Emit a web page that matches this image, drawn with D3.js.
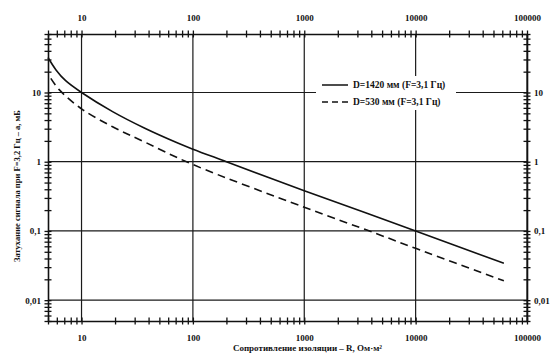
<!DOCTYPE html>
<html>
<head>
<meta charset="utf-8">
<script src="https://cdn.jsdelivr.net/npm/d3@7"></script>
<style>
  body { margin: 0; background: #fff; }
  svg text { font-family: "Liberation Serif", "DejaVu Serif", serif; font-weight: bold; fill: #111; }
</style>
</head>
<body>
<div id="chart"></div>
<script>
// insulation resistance, Ohm*m2
const r1420 = [5, 5.9, 7.2, 10, 19, 37, 74, 100, 200, 1000, 3500, 10000, 62000];
const a1420 = [32, 21.2, 14.8, 10, 5.3, 3.05, 1.85, 1.52, 1.0, 0.38, 0.185, 0.1, 0.034];
const r530 = [5.3, 6.3, 10, 19, 37, 100, 1000, 4400, 10000, 62000];
const a530 = [16, 11, 5.8, 3.2, 1.92, 0.91, 0.22, 0.092, 0.056, 0.019];

const xLabels = [10, 100, 1000, 10000, 100000];
const yLabels = [10, 1, 0.1, 0.01];
const legendNames = ["D=1420 мм (F=3,1 Гц)", "D=530 мм (F=3,1 Гц)"];

const width = 559, height = 363;
const mLeft = 48, mRight = 527, mTop = 34, mBottom = 321;

const svg = d3.select("#chart").append("svg")
  .attr("width", width).attr("height", height);

const x = d3.scaleLog().domain([5, 100000]).range([mLeft, mRight]);
const y = d3.scaleLog().domain([70, 0.005]).range([mTop, mBottom]);

const fmt = d => String(d).replace(".", ",");

// grid at decades
svg.append("g").selectAll("line").data(xLabels).enter().append("line")
  .attr("x1", d => x(d)).attr("x2", d => x(d))
  .attr("y1", mTop).attr("y2", mBottom)
  .attr("stroke", "#1a1a1a").attr("stroke-width", 1.2);
svg.append("g").selectAll("line").data(yLabels).enter().append("line")
  .attr("x1", mLeft).attr("x2", mRight)
  .attr("y1", d => y(d)).attr("y2", d => y(d))
  .attr("stroke", "#1a1a1a").attr("stroke-width", 1.2);

// axes, ticks cross the axis line
function crossTicks(g, vertical) {
  g.select(".domain").attr("stroke", "#111").attr("stroke-width", 1.6);
  g.selectAll(".tick line").attr("stroke", "#111").attr("stroke-width", 1.3);
  if (vertical) g.selectAll(".tick line").attr("x1", -3.5).attr("x2", 3.5);
  else g.selectAll(".tick line").attr("y1", -3.5).attr("y2", 3.5);
  g.selectAll(".tick text").style("font-size", "9px");
}
const xt = x.ticks();
const yt = y.ticks();
const xf = d => xLabels.includes(d) ? fmt(d) : "";
const yf = d => yLabels.some(v => Math.abs(v - d) < 1e-9) ? fmt(d) : "";

svg.append("g").attr("transform", `translate(0,${mBottom})`)
  .call(d3.axisBottom(x).tickValues(xt).tickFormat(xf).tickSizeOuter(0).tickPadding(8))
  .call(g => crossTicks(g, false));
svg.append("g").attr("transform", `translate(0,${mTop})`)
  .call(d3.axisTop(x).tickValues(xt).tickFormat(xf).tickSizeOuter(0).tickPadding(7))
  .call(g => crossTicks(g, false));
svg.append("g").attr("transform", `translate(${mLeft},0)`)
  .call(d3.axisLeft(y).tickValues(yt).tickFormat(yf).tickSizeOuter(0).tickPadding(1))
  .call(g => crossTicks(g, true));
svg.append("g").attr("transform", `translate(${mRight},0)`)
  .call(d3.axisRight(y).tickValues(yt).tickFormat(yf).tickSizeOuter(0).tickPadding(1))
  .call(g => crossTicks(g, true));

// legend box
const lg = svg.append("g");
lg.append("rect").attr("x", 316).attr("y", 76).attr("width", 140).attr("height", 34).attr("fill", "#fff");

// curves
const line = d3.line().x(d => x(d[0])).y(d => y(d[1])).curve(d3.curveCatmullRom.alpha(0.5));
svg.append("path").datum(d3.zip(r1420, a1420))
  .attr("d", line).attr("fill", "none").attr("stroke", "#111").attr("stroke-width", 1.6);
svg.append("path").datum(d3.zip(r530, a530))
  .attr("d", line).attr("fill", "none").attr("stroke", "#111").attr("stroke-width", 1.6)
  .attr("stroke-dasharray", "8,5");

legendNames.forEach((name, i) => {
  const yy = 85 + i * 17;
  lg.append("line").attr("x1", 322).attr("x2", 348).attr("y1", yy).attr("y2", yy)
    .attr("stroke", "#111").attr("stroke-width", 1.5)
    .attr("stroke-dasharray", i ? "6,4" : null);
  lg.append("text").attr("x", 353).attr("y", yy + 3.2)
    .style("font-size", "9.5px").text(name);
});

// axis titles
svg.append("text").attr("x", (mLeft + mRight) / 2 + 20).attr("y", 351)
  .attr("text-anchor", "middle").style("font-size", "9px")
  .text("Сопротивление изоляции – R, Ом·м²");
svg.append("text").attr("transform", "translate(20,186) rotate(-90)")
  .attr("text-anchor", "middle").style("font-size", "8.5px")
  .text("Затухание сигнала при  F=3,2 Гц – a, мБ");
</script>
</body>
</html>
